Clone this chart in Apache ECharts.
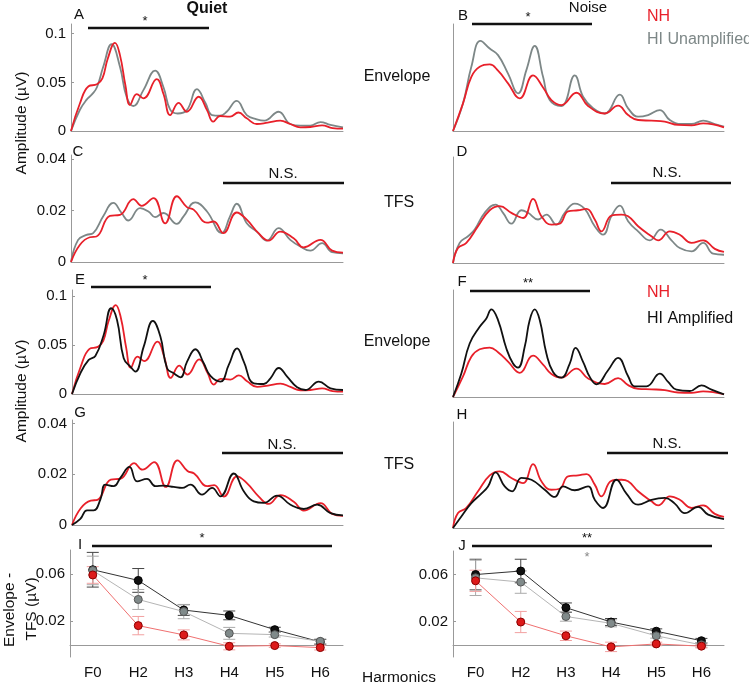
<!DOCTYPE html>
<html>
<head>
<meta charset="utf-8">
<script src="https://cdn.jsdelivr.net/npm/echarts@6/dist/echarts.min.js"></script>
<style>
  html, body { margin: 0; padding: 0; background: #fff; }
  #main { width: 749px; height: 685px; }
</style>
</head>
<body>
<div id="main"></div>
<script>
// spectra: [frequency (Hz), amplitude (uV)]
var nhQuietEnv = [[0,0],[21,0.028],[42,0.046],[62,0.048],[75,0.054],[88,0.0746],[105,0.0906],[117,0.078],[130,0.047],[141,0.0267],[157,0.038],[173,0.0335],[205,0.0534],[221,0.038],[237,0.0164],[257,0.029],[277,0.0198],[305,0.0352],[325,0.0215],[340,0.0096],[356,0.0154],[380,0.0147],[400,0.019],[420,0.013],[444,0.0072],[470,0.0086],[500,0.0106],[524,0.0072],[548,0.0038],[572,0.0041],[600,0.0058],[625,0.003],[650,0.0024]];
var hiUnampQuietEnv = [[0,0],[21,0.0216],[37,0.032],[50,0.0376],[62,0.045],[77,0.066],[97,0.0893],[117,0.066],[133,0.035],[149,0.0257],[173,0.042],[201,0.062],[221,0.045],[237,0.022],[255,0.018],[277,0.0215],[301,0.043],[321,0.029],[337,0.0164],[356,0.0157],[372,0.0198],[396,0.031],[420,0.0164],[444,0.012],[462,0.0106],[496,0.0198],[524,0.0072],[548,0.0055],[572,0.0055],[596,0.0092],[620,0.0062],[650,0.0038]];
var nhQuietTfs = [[0,0],[21,0.0066],[45,0.0096],[61,0.0099],[93,0.0179],[117,0.0183],[149,0.0244],[169,0.0218],[197,0.0248],[225,0.015],[253,0.0255],[277,0.0213],[293,0.0203],[325,0.0153],[341,0.0157],[364,0.0112],[396,0.0192],[420,0.0164],[448,0.0112],[472,0.0083],[500,0.0118],[532,0.0092],[556,0.0057],[596,0.0086],[624,0.0044],[650,0.0036]];
var hiUnampQuietTfs = [[0,0],[17,0.0086],[37,0.0105],[53,0.0112],[77,0.0177],[101,0.0229],[121,0.019],[137,0.0161],[165,0.0209],[185,0.0196],[201,0.0174],[221,0.019],[253,0.0148],[269,0.0177],[297,0.0231],[325,0.0196],[360,0.0112],[380,0.0177],[396,0.0226],[420,0.015],[444,0.0118],[468,0.0083],[496,0.0131],[524,0.0086],[548,0.006],[572,0.0044],[600,0.0073],[624,0.0038],[650,0.0034]];
var nhNoiseEnv = [[0,0],[24,0.0284],[44,0.0557],[64,0.066],[88,0.0684],[108,0.062],[132,0.049],[160,0.0335],[192,0.0571],[216,0.0448],[236,0.0318],[260,0.0267],[296,0.0393],[324,0.0257],[364,0.018],[396,0.026],[420,0.0164],[444,0.0113],[476,0.0106],[508,0.0096],[540,0.0062],[572,0.0058],[600,0.0079],[650,0.0038]];
var hiUnampNoiseEnv = [[0,0],[24,0.0284],[44,0.066],[66,0.0927],[88,0.0848],[108,0.078],[132,0.059],[156,0.0386],[176,0.0626],[196,0.0876],[216,0.0557],[232,0.0318],[260,0.0257],[292,0.0571],[312,0.0352],[336,0.0233],[364,0.018],[400,0.0373],[420,0.0233],[444,0.0147],[468,0.0164],[496,0.0215],[520,0.0113],[548,0.0072],[572,0.0072],[600,0.0106],[628,0.0072],[650,0.0044]];
var nhNoiseTfs = [[0,0],[12,0.0058],[32,0.0078],[60,0.0143],[88,0.0205],[112,0.0221],[140,0.0195],[168,0.0175],[192,0.0249],[212,0.0182],[236,0.0149],[256,0.0153],[276,0.0201],[300,0.0205],[320,0.021],[340,0.0169],[356,0.0123],[380,0.0184],[404,0.0188],[420,0.0182],[444,0.0143],[476,0.0104],[492,0.0088],[520,0.0123],[544,0.011],[572,0.0078],[600,0.0088],[628,0.0055],[650,0.0043]];
var hiUnampNoiseTfs = [[0,0],[16,0.0078],[36,0.0104],[52,0.013],[76,0.0195],[102,0.0227],[120,0.0195],[140,0.0153],[164,0.0205],[180,0.0195],[204,0.0169],[224,0.0188],[248,0.0149],[268,0.0195],[292,0.0231],[316,0.021],[340,0.0143],[360,0.011],[380,0.0182],[400,0.0223],[420,0.0162],[444,0.0123],[472,0.0088],[498,0.013],[524,0.0088],[544,0.0058],[572,0.0045],[600,0.0078],[624,0.0036],[650,0.0032]];
var hiAmpQuietEnv = [[0,0],[20,0.0211],[40,0.0347],[56,0.0388],[76,0.0602],[94,0.0874],[108,0.0755],[124,0.0364],[140,0.0279],[152,0.0228],[172,0.0483],[194,0.0745],[212,0.0585],[228,0.0262],[244,0.0211],[260,0.017],[276,0.033],[296,0.0456],[316,0.0313],[332,0.0184],[356,0.0126],[376,0.0296],[396,0.0466],[412,0.033],[436,0.0109],[460,0.0102],[476,0.016],[496,0.0265],[516,0.0177],[540,0.0068],[560,0.0041],[592,0.0126],[620,0.0058],[650,0.0041]];
var hiAmpQuietTfs = [[0,0],[20,0.0024],[36,0.0058],[52,0.0058],[68,0.01],[80,0.0159],[100,0.0153],[116,0.0186],[138,0.0229],[156,0.0172],[180,0.0182],[200,0.0153],[220,0.0155],[244,0.015],[264,0.0146],[284,0.0159],[312,0.012],[336,0.0146],[356,0.0113],[388,0.0203],[412,0.0133],[436,0.0093],[460,0.0087],[492,0.0116],[524,0.008],[556,0.0063],[588,0.008],[620,0.0047],[650,0.0038]];
var hiAmpNoiseEnv = [[0,0],[20,0.0324],[40,0.074],[64,0.0971],[80,0.1087],[92,0.1212],[108,0.1064],[128,0.067],[144,0.0463],[156,0.0407],[172,0.0694],[184,0.1064],[196,0.1212],[208,0.1064],[224,0.0601],[240,0.0347],[260,0.0268],[280,0.0463],[294,0.068],[312,0.0486],[328,0.0278],[344,0.0176],[372,0.037],[396,0.0541],[420,0.0287],[436,0.0148],[464,0.0148],[496,0.0324],[516,0.0208],[536,0.0102],[568,0.0083],[596,0.0162],[620,0.0102],[650,0.0037]];
var hiAmpNoiseTfs = [[0,0],[20,0.0045],[44,0.0097],[68,0.0134],[84,0.0162],[102,0.0217],[124,0.0162],[142,0.0143],[164,0.0195],[188,0.0188],[220,0.0149],[244,0.0121],[264,0.0162],[292,0.0147],[324,0.0162],[340,0.011],[360,0.0078],[392,0.0188],[416,0.0134],[444,0.0091],[476,0.011],[508,0.0117],[532,0.0095],[556,0.0058],[588,0.0082],[612,0.0052],[650,0.0035]];

// envelope - TFS difference per harmonic (uV), mean and error
var harmonics = ['F0', 'H2', 'H3', 'H4', 'H5', 'H6'];
var quietHiAmp = [0.0634, 0.0544, 0.0295, 0.025, 0.013, 0.0027];
var quietHiAmpErr = [0.0146, 0.01, 0.0045, 0.0037, 0.002, 0.002];
var quietHiUnamp = [0.0628, 0.0384, 0.0282, 0.0099, 0.0088, 0.0032];
var quietHiUnampErr = [0.012, 0.0084, 0.006, 0.005, 0.002, 0.002];
var quietNh = [0.059, 0.0164, 0.0086, -0.001, -0.0004, -0.0021];
var quietNhErr = [0.007, 0.0077, 0.0042, 0.003, 0.0015, 0.002];
var noiseHiAmp = [0.06, 0.063, 0.0319, 0.0197, 0.0119, 0.0038];
var noiseHiAmpErr = [0.013, 0.01, 0.004, 0.003, 0.002, 0.002];
var noiseHiUnamp = [0.0572, 0.0536, 0.0244, 0.0186, 0.008, 0.0003];
var noiseHiUnampErr = [0.015, 0.0095, 0.004, 0.003, 0.002, 0.002];
var noiseNh = [0.0547, 0.0197, 0.008, -0.0014, 0.0011, -0.0008];
var noiseNhErr = [0.009, 0.009, 0.004, 0.004, 0.0015, 0.0015];

var RED = '#e8202a', GREY = '#7d8787', BLACK = '#111111';
var FONT = 'Liberation Sans, Arial, sans-serif';

var chart = echarts.init(document.getElementById('main'));

// panel boxes (pixels)
var panels = [
  {left: 71, top: 24, width: 272, height: 107, max: 0.11, labels: [0, 0.05, 0.1]},
  {left: 453, top: 24, width: 271, height: 107, max: 0.11},
  {left: 71, top: 155, width: 272, height: 107, max: 0.0415, labels: [0, 0.02, 0.04]},
  {left: 453, top: 157, width: 271, height: 106, max: 0.0412},
  {left: 72, top: 290, width: 271, height: 104, max: 0.106, labels: [0, 0.05, 0.1]},
  {left: 453, top: 290, width: 271, height: 107, max: 0.148},
  {left: 72, top: 420, width: 271, height: 105, max: 0.0414, labels: [0, 0.02, 0.04]},
  {left: 453, top: 422, width: 271, height: 106, max: 0.0413},
  {left: 70, top: 550, width: 273, height: 107, min: -0.01, max: 0.08, labels: [0.02, 0.06]},
  {left: 453, top: 551, width: 271, height: 106, min: -0.01, max: 0.08, labels: [0.02, 0.06]}
];

var grids = [], xAxes = [], yAxes = [];
panels.forEach(function (p, i) {
  grids.push({left: p.left, top: p.top, width: p.width, height: p.height,
              containLabel: false, outerBoundsMode: 'none'});
  var isCat = i >= 8;
  xAxes.push(isCat ? {
    type: 'category', gridIndex: i, data: harmonics, boundaryGap: true,
    axisLine: {lineStyle: {color: '#999', width: 1}},
    axisTick: {show: false},
    axisLabel: {color: '#111', fontSize: 15, fontFamily: FONT, margin: 8}
  } : {
    type: 'value', gridIndex: i, min: 0, max: 650,
    axisLine: {show: true, lineStyle: {color: '#999', width: 1}},
    axisTick: {show: false}, axisLabel: {show: false}, splitLine: {show: false}
  });
  yAxes.push({
    type: 'value', gridIndex: i, min: p.min || 0, max: p.max,
    axisLine: {show: true, lineStyle: {color: '#999', width: 1}},
    axisTick: {show: !!p.labels, inside: true, length: 3, customValues: p.labels || [],
               lineStyle: {color: '#999'}},
    axisLabel: {show: !!p.labels, customValues: p.labels || [], color: '#111',
                fontSize: 15, fontFamily: FONT, margin: 5},
    splitLine: {show: false}
  });
});

function curve(idx, data, color) {
  return {type: 'line', xAxisIndex: idx, yAxisIndex: idx, data: data,
          showSymbol: false, smooth: 0.45, silent: true,
          lineStyle: {color: color, width: 1.8}};
}

function errBars(idx, means, errs, color) {
  return {
    type: 'custom', xAxisIndex: idx, yAxisIndex: idx, silent: true, z: 2,
    data: means.map(function (m, k) { return [k, m - errs[k], m + errs[k]]; }),
    encode: {x: 0, y: [1, 2]},
    renderItem: function (params, api) {
      var lo = api.coord([api.value(0), api.value(1)]);
      var hi = api.coord([api.value(0), api.value(2)]);
      var w = 6, st = {stroke: color, lineWidth: 1};
      return {type: 'group', children: [
        {type: 'line', shape: {x1: hi[0], y1: hi[1], x2: lo[0], y2: lo[1]}, style: st},
        {type: 'line', shape: {x1: hi[0] - w, y1: hi[1], x2: hi[0] + w, y2: hi[1]}, style: st},
        {type: 'line', shape: {x1: lo[0] - w, y1: lo[1], x2: lo[0] + w, y2: lo[1]}, style: st}
      ]};
    }
  };
}

function dots(idx, means, lineColor, fill, border, z) {
  return {type: 'line', xAxisIndex: idx, yAxisIndex: idx, data: means, silent: true, z: z,
          symbol: 'circle', symbolSize: 8, showSymbol: true,
          lineStyle: {color: lineColor, width: 1},
          itemStyle: {color: fill, borderColor: border, borderWidth: 1}};
}

var series = [
  curve(0, hiUnampQuietEnv, GREY), curve(0, nhQuietEnv, RED),
  curve(1, hiUnampNoiseEnv, GREY), curve(1, nhNoiseEnv, RED),
  curve(2, hiUnampQuietTfs, GREY), curve(2, nhQuietTfs, RED),
  curve(3, hiUnampNoiseTfs, GREY), curve(3, nhNoiseTfs, RED),
  curve(4, nhQuietEnv, RED), curve(4, hiAmpQuietEnv, BLACK),
  curve(5, nhNoiseEnv, RED), curve(5, hiAmpNoiseEnv, BLACK),
  curve(6, nhQuietTfs, RED), curve(6, hiAmpQuietTfs, BLACK),
  curve(7, nhNoiseTfs, RED), curve(7, hiAmpNoiseTfs, BLACK),

  errBars(8, quietHiAmp, quietHiAmpErr, '#444'),
  errBars(8, quietHiUnamp, quietHiUnampErr, '#aaa'),
  errBars(8, quietNh, quietNhErr, '#f2a0a0'),
  dots(8, quietHiAmp, '#333', '#111', '#000', 3),
  dots(8, quietHiUnamp, '#b5b5b5', '#808a8a', '#555', 4),
  dots(8, quietNh, '#f07070', '#dd1a1a', '#8a0000', 5),

  errBars(9, noiseHiAmp, noiseHiAmpErr, '#444'),
  errBars(9, noiseHiUnamp, noiseHiUnampErr, '#aaa'),
  errBars(9, noiseNh, noiseNhErr, '#f2a0a0'),
  dots(9, noiseHiAmp, '#333', '#111', '#000', 3),
  dots(9, noiseHiUnamp, '#b5b5b5', '#808a8a', '#555', 4),
  dots(9, noiseNh, '#f07070', '#dd1a1a', '#8a0000', 5)
];

function txt(x, y, s, opt) {
  opt = opt || {};
  return {type: 'text', x: x, y: y, rotation: opt.rot || 0, silent: true, z: 10,
          style: {text: s, fill: opt.color || '#111', fontSize: opt.size || 15,
                  fontWeight: opt.bold ? 'bold' : 'normal', fontFamily: FONT,
                  textAlign: opt.align || 'center', textVerticalAlign: 'middle'}};
}
function bar(x1, x2, y) {
  return {type: 'line', silent: true, z: 10, shape: {x1: x1, y1: y, x2: x2, y2: y},
          style: {stroke: '#111', lineWidth: 2.5}};
}

var graphics = [
  txt(207, 9, 'Quiet', {bold: true, size: 16}),
  txt(588, 8, 'Noise'),
  txt(647, 17, 'NH', {color: RED, align: 'left', size: 16}),
  txt(647, 40, 'HI Unamplified', {color: GREY, align: 'left', size: 16}),
  txt(647, 293, 'NH', {color: RED, align: 'left', size: 16}),
  txt(647, 319, 'HI Amplified', {align: 'left', size: 16}),
  txt(397, 77, 'Envelope', {size: 16}),
  txt(399, 203, 'TFS', {size: 16}),
  txt(397, 342, 'Envelope', {size: 16}),
  txt(399, 465, 'TFS', {size: 16}),
  txt(22, 123, 'Amplitude (µV)', {rot: Math.PI / 2, size: 15.5}),
  txt(22, 391, 'Amplitude (µV)', {rot: Math.PI / 2, size: 15.5}),
  txt(10, 610, 'Envelope -', {rot: Math.PI / 2, size: 15.5}),
  txt(32, 609, 'TFS (µV)', {rot: Math.PI / 2, size: 15.5}),
  txt(399, 678, 'Harmonics', {size: 15.5}),
  txt(79, 15, 'A'), txt(463, 16, 'B'), txt(78, 152, 'C'), txt(462, 152, 'D'),
  txt(80, 280, 'E'), txt(462, 282, 'F'), txt(80, 413, 'G'), txt(462, 415, 'H'),
  txt(80, 545, 'I'), txt(462, 546, 'J'),
  bar(88, 209, 28), txt(145, 21, '*', {size: 13}),
  bar(472, 592, 24), txt(528, 17, '*', {size: 13}),
  bar(223, 344, 183), txt(283, 174, 'N.S.'),
  bar(611, 731, 183), txt(667, 173, 'N.S.'),
  bar(91, 211, 287), txt(145, 280, '*', {size: 13}),
  bar(470, 590, 291), txt(528, 283, '**', {size: 13}),
  bar(222, 343, 453), txt(282, 445, 'N.S.'),
  bar(607, 728, 453), txt(667, 444, 'N.S.'),
  bar(92, 332, 546), txt(202, 538, '*', {size: 13}),
  bar(472, 712, 546), txt(587, 538, '**', {size: 13}),
  txt(587, 557, '*', {size: 13, color: '#888'})
];

var option = {
  backgroundColor: '#fff',
  animation: false,
  grid: grids,
  xAxis: xAxes,
  yAxis: yAxes,
  series: series,
  graphic: graphics
};
chart.setOption(option);
</script>
</body>
</html>
